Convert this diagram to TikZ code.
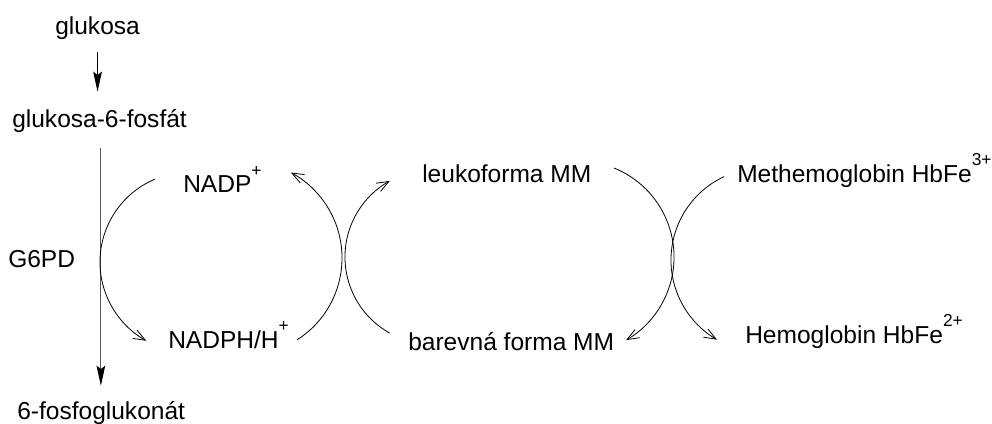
\documentclass[tikz,border=0pt]{standalone}
\usepackage{fontspec}
\setmainfont{Liberation Sans}
\usetikzlibrary{arrows.meta}
\newcommand\supx[1]{\raisebox{0.68em}{\fontsize{13}{13}\selectfont #1}}
\begin{document}
\begin{tikzpicture}[x=0.75pt,y=0.75pt,
 lbl/.style={inner sep=0pt, anchor=base west, font=\fontsize{18.4}{22}\selectfont},
 flow/.style={line width=0.8pt, -{Stealth[length=15pt,width=6.5pt,inset=2.5pt,color=black]}},
 cyc/.style={line width=0.6pt, -{Straight Barb[length=9pt,width=7pt]}}]
\useasboundingbox (0,0) rectangle (992,-424);
% labels
\node[lbl] (glu) at (55,-35) {glukosa};
\node[lbl] (g6p) at (12,-128) {glukosa-6-fosfát};
\node[lbl] (g6pd) at (8,-267) {G6PD};
\node[lbl] (pg) at (17,-419) {6-fosfoglukonát};
\node[lbl] (nadp) at (183,-193) {NADP\supx{+}};
\node[lbl] (nadph) at (168,-348) {NADPH/H\supx{+}};
\node[lbl] (leuko) at (422,-183) {leukoforma MM};
\node[lbl] (bar) at (408,-350) {barevná forma MM};
\node[lbl] (met) at (737,-182) {Methemoglobin HbFe\supx{3+}};
\node[lbl] (hb) at (745,-343) {Hemoglobin HbFe\supx{2+}};
% straight arrows
\draw[flow, shorten <=9pt, shorten >=13.5pt] (glu.south) -- (glu.south |- g6p.north);
\draw[flow, draw=black!65, shorten <=11.25pt, shorten >=11.25pt] ([xshift=1]g6p.south) -- ([xshift=1]g6p.south |- pg.north);
% arc start points
\coordinate (a1s) at (154.8,-179.2);
\coordinate (a2s) at (297,-339.9);
\coordinate (a3s) at (389.8,-333.1);
\coordinate (a4s) at (614,-168);
\coordinate (a5s) at (724.1,-176.6);
% cycle arcs
\draw[cyc] (a1s) arc[start angle=113, end angle=241, radius=90];
\draw[cyc] (a2s) arc[start angle=-57.6, end angle=61.8, radius=97];
\draw[cyc] (a3s) arc[start angle=241, end angle=119, radius=87];
\draw[cyc] (a4s) arc[start angle=68, end angle=-60, radius=96];
\draw[cyc] (a5s) arc[start angle=115, end angle=240, radius=92];
\end{tikzpicture}
\end{document}
